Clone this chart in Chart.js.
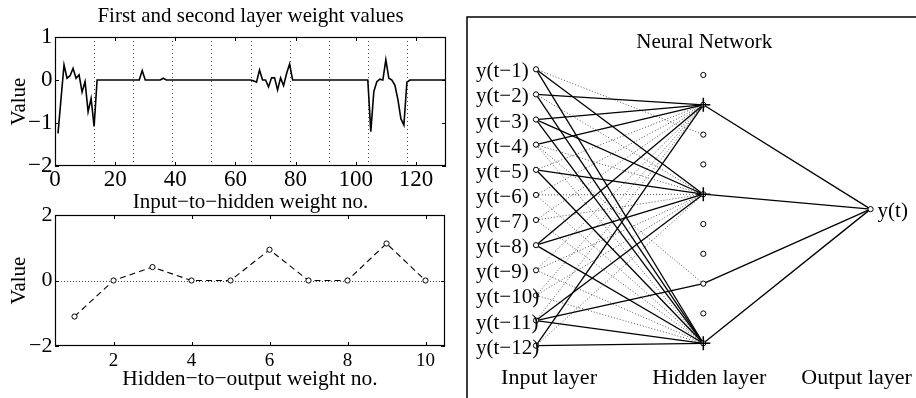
<!DOCTYPE html>
<html><head><meta charset="utf-8">
<script src="https://cdn.jsdelivr.net/npm/chart.js@4.4.1/dist/chart.umd.min.js"></script>
<style>
html,body{margin:0;padding:0;background:#fff;}
#wrap{position:relative;width:916px;height:398px;overflow:hidden;background:#fff;}
canvas{position:absolute;}
</style></head><body>
<div id="wrap">
<canvas id="c1" width="460" height="216" style="left:0px;top:0px"></canvas>
<canvas id="c2" width="460" height="208" style="left:0px;top:190px"></canvas>
<canvas id="c3" width="456" height="398" style="left:460px;top:0px"></canvas>
</div>
<script>
// ---------- data ----------
const topTitle = 'First and second layer weight values';
const topXTitle = 'Input\u2212to\u2212hidden weight no.';
const bottomXTitle = 'Hidden\u2212to\u2212output weight no.';
const yTitle = 'Value';

// input-to-hidden weights, weight no. 1..130
const inputToHidden = [
  -1.24, -0.44, 0.35, 0.04, 0.10, 0.27, 0.04, 0.12, -0.28, -0.04, -0.74, -0.43, -1.08,
  0, 0, 0, 0, 0, 0, 0, 0, 0, 0, 0, 0, 0, 0, 0,
  0.22,
  0, 0, 0, 0, 0, 0,
  0.04,
  0, 0, 0, 0, 0, 0, 0, 0, 0, 0, 0, 0, 0, 0, 0, 0, 0, 0, 0, 0, 0, 0, 0, 0, 0, 0, 0, 0, 0,
  -0.02, -0.05, 0.23, 0.0, 0.0, -0.16, 0.05, 0.05, -0.23, 0.05, -0.13, 0.15, 0.37,
  0, 0, 0, 0, 0, 0, 0, 0, 0, 0, 0, 0, 0, 0, 0, 0, 0, 0, 0, 0, 0, 0, 0, 0, 0, 0,
  -1.20, -0.27, -0.04, 0.02, 0.0, 0.47, 0.04, 0.0, -0.12, -0.45, -0.90, -1.05, -0.05,
  0, 0, 0, 0, 0, 0, 0, 0, 0, 0, 0, 0, 0
];
const topXTicks = [0, 20, 40, 60, 80, 100, 120];
const topYTicks = [1, 0, -1, -2];
const neuronBounds = [13, 26, 39, 52, 65, 78, 91, 104, 117];

// hidden-to-output weights, hidden neuron 1..10
const hiddenNo = [1, 2, 3, 4, 5, 6, 7, 8, 9, 10];
const hiddenToOutput = [-1.1, 0, 0.41, 0, 0, 0.94, 0, 0, 1.13, 0];
const bottomXTicks = [2, 4, 6, 8, 10];
const bottomYTicks = [2, 0, -2];

// network diagram
const netTitle = 'Neural Network';
const inputLabels = ['y(t\u22121)','y(t\u22122)','y(t\u22123)','y(t\u22124)','y(t\u22125)','y(t\u22126)',
  'y(t\u22127)','y(t\u22128)','y(t\u22129)','y(t\u221210)','y(t\u221211)','y(t\u221212)'];
const outputLabel = 'y(t)';
const layerLabels = ['Input layer', 'Hidden layer', 'Output layer'];
// [input k, hidden j]  (hidden 1 at the bottom, 10 at the top)
const strongLinks = [[2,9],[3,9],[4,9],[8,9],[12,9],
  [1,6],[3,6],[5,6],[8,6],[11,6],
  [1,1],[2,1],[3,1],[5,1],[8,1],[11,1],[12,1],
  [11,3]];
const weakLinks = [[5,9],[6,9],[7,9],[9,9],[10,9],[11,9],
  [2,6],[4,6],[6,6],[7,6],[9,6],[10,6],[12,6],
  [4,1],[6,1],[7,1],[9,1],[10,1],
  [4,3],[1,8]];
const outputLinks = [9, 6, 3, 1];
const crossedHidden = [9, 6, 1];

// ---------- helpers ----------
const FONT = "'Liberation Serif','Times New Roman',serif";
Chart.defaults.font.family = FONT;
Chart.defaults.color = '#000';
const fmt = v => String(v).replace('-', '\u2212');

const refLines = {
  id: 'refLines',
  beforeDatasetsDraw(chart, args, o) {
    const {ctx, chartArea: a, scales: {x, y}} = chart;
    ctx.save();
    ctx.strokeStyle = o.color || '#333';
    ctx.lineWidth = 1;
    ctx.setLineDash(o.dash || [1, 3]);
    (o.xs || []).forEach(v => {
      const p = Math.round(x.getPixelForValue(v)) + 0.5;
      ctx.beginPath(); ctx.moveTo(p, a.top); ctx.lineTo(p, a.bottom); ctx.stroke();
    });
    (o.ys || []).forEach(v => {
      const p = Math.round(y.getPixelForValue(v)) + 0.5;
      ctx.beginPath(); ctx.moveTo(a.left, p); ctx.lineTo(a.right, p); ctx.stroke();
    });
    ctx.restore();
  }
};
const boxTicks = {
  id: 'boxTicks',
  afterDatasetsDraw(chart) {
    const {ctx, chartArea: a, scales: {x, y}} = chart;
    ctx.save();
    ctx.strokeStyle = '#000';
    ctx.lineWidth = 1.2;
    ctx.setLineDash([]);
    ctx.strokeRect(Math.round(a.left) + 0.5, Math.round(a.top) + 0.5, Math.round(a.width) - 1, Math.round(a.height) - 1);
    const L = 4;
    ctx.lineWidth = 1;
    x.ticks.forEach(t => {
      const p = Math.round(x.getPixelForValue(t.value)) + 0.5;
      ctx.beginPath();
      ctx.moveTo(p, a.bottom); ctx.lineTo(p, a.bottom - L);
      ctx.moveTo(p, a.top); ctx.lineTo(p, a.top + L);
      ctx.stroke();
    });
    y.ticks.forEach(t => {
      const p = Math.round(y.getPixelForValue(t.value)) + 0.5;
      ctx.beginPath();
      ctx.moveTo(a.left, p); ctx.lineTo(a.left + L, p);
      ctx.moveTo(a.right, p); ctx.lineTo(a.right - L, p);
      ctx.stroke();
    });
    ctx.restore();
  }
};
const setTicks = arr => s => { s.ticks = arr.map(v => ({value: v})); };

// ---------- chart 1 : input-to-hidden weights ----------
new Chart(document.getElementById('c1'), {
  type: 'scatter',
  data: {datasets: [{
    data: inputToHidden.map((v, i) => ({x: i + 1, y: v})),
    showLine: true, borderColor: '#000', borderWidth: 1.6, pointRadius: 0, tension: 0
  }]},
  options: {
    responsive: false, animation: false, devicePixelRatio: 1, events: [],
    layout: {autoPadding: false, padding: {left: 0, right: 14, top: 0, bottom: 0}},
    plugins: {
      legend: {display: false}, tooltip: {enabled: false},
      title: {display: true, text: topTitle, fullSize: false, color: '#000',
        font: {family: FONT, size: 21, weight: 'normal'}, padding: {top: 4, bottom: 7.8}},
      refLines: {xs: neuronBounds, dash: [1, 3], color: '#444'}
    },
    scales: {
      x: {type: 'linear', min: 0, max: 130,
        afterBuildTicks: setTicks(topXTicks), afterFit: s => { s.height = 50; },
        grid: {display: false, drawTicks: false}, border: {display: false},
        ticks: {color: '#000', font: {family: FONT, size: 23}, padding: 0, maxRotation: 0, autoSkip: false, callback: fmt},
        title: {display: true, text: topXTitle, color: '#000', font: {family: FONT, size: 21}, padding: {top: 0, bottom: 1.4}}},
      y: {type: 'linear', min: -2, max: 1,
        afterBuildTicks: setTicks(topYTicks), afterFit: s => { s.width = 55; },
        grid: {display: false, drawTicks: false}, border: {display: false},
        ticks: {color: '#000', font: {family: FONT, size: 23}, padding: 2.5, callback: fmt},
        title: {display: true, text: yTitle, color: '#000', font: {family: FONT, size: 21}, padding: {top: 6.9, bottom: 0}}}
    }
  },
  plugins: [refLines, boxTicks]
});

// ---------- chart 2 : hidden-to-output weights ----------
new Chart(document.getElementById('c2'), {
  type: 'scatter',
  data: {datasets: [{
    data: hiddenToOutput.map((v, i) => ({x: hiddenNo[i], y: v})),
    showLine: true, borderColor: '#000', borderWidth: 1.1, borderDash: [6, 4],
    pointRadius: 2.6, pointBorderWidth: 1, pointBackgroundColor: '#fff', pointBorderColor: '#000', tension: 0
  }]},
  options: {
    responsive: false, animation: false, devicePixelRatio: 1, events: [],
    layout: {autoPadding: false, padding: {left: 0, right: 15, top: 25, bottom: 0}},
    plugins: {
      legend: {display: false}, tooltip: {enabled: false},
      refLines: {ys: [0], dash: [1, 2], color: '#444'}
    },
    scales: {
      x: {type: 'linear', min: 0.5, max: 10.5,
        afterBuildTicks: setTicks(bottomXTicks), afterFit: s => { s.height = 52; },
        grid: {display: false, drawTicks: false}, border: {display: false},
        ticks: {color: '#000', font: {family: FONT, size: 19}, padding: 4, maxRotation: 0, autoSkip: false, callback: fmt},
        title: {display: true, text: bottomXTitle, color: '#000', font: {family: FONT, size: 21.5}, padding: {top: 0, bottom: 6}}},
      y: {type: 'linear', min: -2, max: 2,
        afterBuildTicks: setTicks(bottomYTicks), afterFit: s => { s.width = 55; },
        grid: {display: false, drawTicks: false}, border: {display: false},
        ticks: {color: '#000', font: {family: FONT, size: 22}, padding: 2.5, callback: fmt},
        title: {display: true, text: yTitle, color: '#000', font: {family: FONT, size: 21}, padding: {top: 6.9, bottom: 0}}}
    }
  },
  plugins: [refLines, boxTicks]
});

// ---------- chart 3 : network diagram ----------
const nIn = inputLabels.length, nHid = hiddenNo.length;
const inputY = inputLabels.map((_, k) => 1 - k / (nIn - 1));
const hidBottom = 0.0087, hidTop = 0.9794;
const hiddenY = hiddenNo.map((_, j) => hidBottom + j * (hidTop - hidBottom) / (nHid - 1));
const outY = (hidBottom + hidTop) / 2;

const nodeStyle = {showLine: false, pointStyle: 'circle', pointRadius: 2.6, pointBorderWidth: 1,
  pointBackgroundColor: '#fff', pointBorderColor: '#000'};
const linkDs = (pts, strong) => ({
  data: pts, showLine: true, pointRadius: 0, tension: 0,
  borderColor: strong ? '#000' : '#555', borderWidth: strong ? 1.3 : 1, borderDash: strong ? [] : [1, 2]
});

const netDatasets = [
  Object.assign({data: crossedHidden.map(j => ({x: 1, y: hiddenY[j - 1]}))}, nodeStyle,
    {pointStyle: 'cross', pointRadius: 7, pointBorderWidth: 1.5}),
  Object.assign({data: inputY.map(y => ({x: 0, y}))}, nodeStyle),
  Object.assign({data: hiddenY.map(y => ({x: 1, y}))}, nodeStyle),
  Object.assign({data: [{x: 2, y: outY}]}, nodeStyle),
  ...outputLinks.map(j => linkDs([{x: 1, y: hiddenY[j - 1]}, {x: 2, y: outY}], true)),
  ...strongLinks.map(([k, j]) => linkDs([{x: 0, y: inputY[k - 1]}, {x: 1, y: hiddenY[j - 1]}], true)),
  ...weakLinks.map(([k, j]) => linkDs([{x: 0, y: inputY[k - 1]}, {x: 1, y: hiddenY[j - 1]}], false))
];

const netLabels = {
  id: 'netLabels',
  beforeDatasetsDraw(chart) {
    const {ctx} = chart;
    ctx.save();
    ctx.strokeStyle = '#000'; ctx.lineWidth = 1.5;
    ctx.strokeRect(7, 17, 600, 600);
    ctx.restore();
  },
  afterDatasetsDraw(chart) {
    const {ctx, scales: {x, y}} = chart;
    ctx.save();
    ctx.fillStyle = '#000';
    ctx.font = '21px ' + FONT;
    ctx.textBaseline = 'middle';
    ctx.textAlign = 'left';
    inputLabels.forEach((t, k) => ctx.fillText(t, x.getPixelForValue(0) - 60, y.getPixelForValue(inputY[k]) + 2.5));
    ctx.fillText(outputLabel, x.getPixelForValue(2) + 7, y.getPixelForValue(outY) + 2.5);
    ctx.textAlign = 'center';
    ctx.fillText(netTitle, x.getPixelForValue(1) + 1, 42.5);
    ctx.font = '22px ' + FONT;
    const offs = [13, 6, -14];
    layerLabels.forEach((t, i) => ctx.fillText(t, x.getPixelForValue(i) + offs[i], 378));
    ctx.restore();
  }
};

new Chart(document.getElementById('c3'), {
  type: 'scatter',
  data: {datasets: netDatasets},
  options: {
    responsive: false, animation: false, devicePixelRatio: 1, events: [],
    layout: {autoPadding: false, padding: 0},
    plugins: {legend: {display: false}, tooltip: {enabled: false}},
    scales: {
      x: {type: 'linear', display: false, min: -0.4543, max: 2.2714},
      y: {type: 'linear', display: false, min: -0.1893, max: 1.2507}
    }
  },
  plugins: [netLabels]
});
</script>
</body></html>
